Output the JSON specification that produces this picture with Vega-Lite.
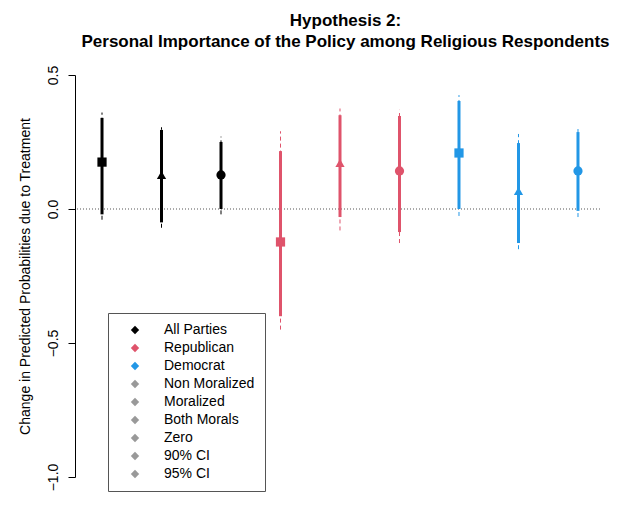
{
  "$schema": "https://vega.github.io/schema/vega-lite/v6.json",
  "autosize": "none",
  "width": 525,
  "height": 402,
  "padding": {"left": 75, "top": 75, "right": 39, "bottom": 31},
  "background": "white",
  "title": {
    "text": ["Hypothesis 2:", "Personal Importance of the Policy among Religious Respondents"],
    "font": "Liberation Sans",
    "fontSize": 17,
    "fontWeight": "bold",
    "anchor": "middle",
    "dx": 8,
    "offset": 14,
    "lineHeight": 21
  },
  "config": {
    "view": {"stroke": null},
    "font": "Liberation Sans"
  },
  "data": {
    "values": [
      {"i": 1, "grp": "All Parties", "moral": "Non Moralized", "est": 0.175, "lo90": -0.02, "hi90": 0.34, "lo95": -0.04, "hi95": 0.36},
      {"i": 2, "grp": "All Parties", "moral": "Moralized", "est": 0.127, "lo90": -0.05, "hi90": 0.295, "lo95": -0.07, "hi95": 0.305},
      {"i": 3, "grp": "All Parties", "moral": "Both Morals", "est": 0.127, "lo90": 0.0, "hi90": 0.25, "lo95": -0.02, "hi95": 0.27},
      {"i": 4, "grp": "Republican", "moral": "Non Moralized", "est": -0.123, "lo90": -0.4, "hi90": 0.216, "lo95": -0.45, "hi95": 0.29},
      {"i": 5, "grp": "Republican", "moral": "Moralized", "est": 0.172, "lo90": -0.03, "hi90": 0.35, "lo95": -0.08, "hi95": 0.375},
      {"i": 6, "grp": "Republican", "moral": "Both Morals", "est": 0.142, "lo90": -0.086, "hi90": 0.347, "lo95": -0.127, "hi95": 0.37},
      {"i": 7, "grp": "Democrat", "moral": "Non Moralized", "est": 0.209, "lo90": 0.0, "hi90": 0.403, "lo95": -0.026, "hi95": 0.425},
      {"i": 8, "grp": "Democrat", "moral": "Moralized", "est": 0.067, "lo90": -0.127, "hi90": 0.246, "lo95": -0.15, "hi95": 0.28},
      {"i": 9, "grp": "Democrat", "moral": "Both Morals", "est": 0.142, "lo90": -0.007, "hi90": 0.287, "lo95": -0.03, "hi95": 0.305}
    ]
  },
  "encoding": {
    "x": {"field": "i", "type": "quantitative", "scale": {"domain": [0.546, 9.37], "nice": false, "zero": false}, "axis": null}
  },
  "layer": [
    {
      "mark": {"type": "rule", "color": "#aaaaaa", "strokeWidth": 0.8, "strokeDash": [1, 2]},
      "encoding": {"x": null, "y": {"datum": 0, "type": "quantitative"}}
    },
    {
      "mark": {"type": "rule", "strokeWidth": 1, "strokeDash": [4, 3]},
      "encoding": {
        "y": {
          "field": "lo95", "type": "quantitative",
          "scale": {"domain": [-1, 0.5], "nice": false, "zero": false},
          "axis": {
            "values": [-1, -0.5, 0, 0.5], "format": ".1f", "labelAngle": -90, "labelAlign": "center", "labelBaseline": "bottom",
            "labelFontSize": 14, "labelColor": "black", "labelPadding": 8, "tickSize": 7, "tickColor": "black", "domainColor": "black",
            "grid": false, "title": "Change in Predicted Probabilities due to Treatment", "titleFontSize": 14,
            "titleFontWeight": "normal", "titleColor": "black", "titlePadding": 14
          }
        },
        "y2": {"field": "hi95"},
        "stroke": {"field": "grp", "type": "nominal", "scale": {"domain": ["All Parties", "Republican", "Democrat"], "range": ["black", "#DF536B", "#2297E6"]}, "legend": null}
      }
    },
    {
      "mark": {"type": "rule", "strokeWidth": 3},
      "encoding": {
        "y": {"field": "lo90", "type": "quantitative"},
        "y2": {"field": "hi90"},
        "stroke": {"field": "grp", "type": "nominal", "legend": null}
      }
    },
    {
      "mark": {"type": "point", "filled": true, "size": 85, "opacity": 1, "strokeWidth": 0},
      "encoding": {
        "y": {"field": "est", "type": "quantitative"},
        "shape": {"field": "moral", "type": "nominal", "scale": {"domain": ["Non Moralized", "Moralized", "Both Morals"], "range": ["square", "triangle-up", "circle"]}, "legend": null},
        "fill": {
          "field": "grp", "type": "nominal",
          "scale": {
            "domain": ["All Parties", "Republican", "Democrat", "Non Moralized", "Moralized", "Both Morals", "Zero", "90% CI", "95% CI"],
            "range": ["black", "#DF536B", "#2297E6", "#999999", "#999999", "#999999", "#999999", "#999999", "#999999"]
          },
          "legend": {
            "title": null, "orient": "none", "legendX": 33, "legendY": 238,
            "strokeColor": "#555555", "padding": 10, "labelFontSize": 14, "labelColor": "black",
            "symbolType": "diamond", "symbolSize": 70, "rowPadding": 4, "labelOffset": 22, "symbolOffset": 10,
            "values": ["All Parties", "Republican", "Democrat", "Non Moralized", "Moralized", "Both Morals", "Zero", "90% CI", "95% CI"]
          }
        }
      }
    }
  ]
}
